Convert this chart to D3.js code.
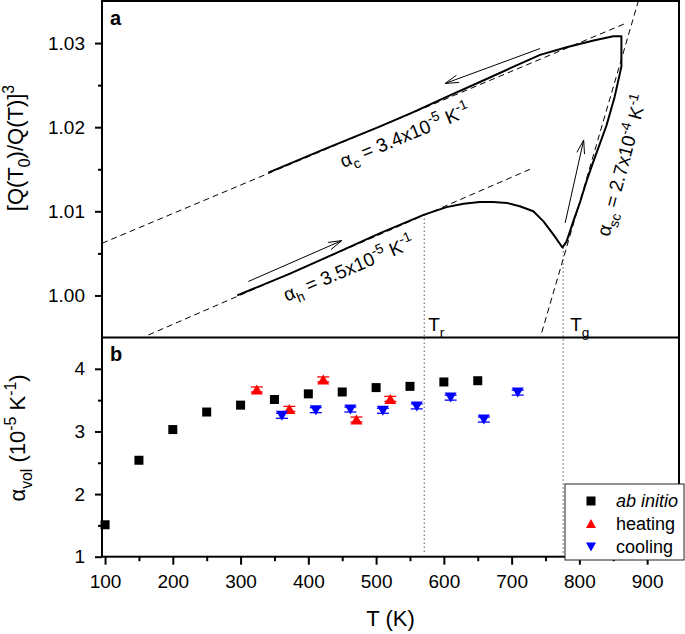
<!DOCTYPE html>
<html><head><meta charset="utf-8">
<script src="https://cdn.jsdelivr.net/npm/d3@7"></script>
<style>
body{margin:0;background:#fff;}
svg text{font-family:"Liberation Sans",Arial,sans-serif;fill:#000;}
</style></head><body>
<svg id="c" width="685" height="634"></svg>
<script>
// ---------- data ----------
const xTicks = [100,200,300,400,500,600,700,800,900];
const xMinorTicks = [150,250,350,450,550,650,750,850];
const topTicks = [1.00,1.01,1.02,1.03];
const topMinorTicks = [1.005,1.015,1.025];
const botTicks = [1,2,3,4];
const botMinorTicks = [1.5,2.5,3.5];

// panel a: measured curve (heating then cooling)
const heatCurveT = [295,373,440,506,571,604,629,653,673,693,712,732,747,762,775,781,791,801,811,821,840,852,862,862];
const heatCurveV = [1.0000,1.0026,1.0050,1.0074,1.0096,1.0105,1.0109,1.0111,1.0111,1.0110,1.0106,1.0100,1.0088,1.0072,1.0057,1.0064,1.0088,1.0111,1.0137,1.0160,1.0202,1.0236,1.0272,1.0308];
const coolCurveT = [862,850,821,781,742,703,654,604,555,506,421,341];
const coolCurveV = [1.0308,1.0308,1.0303,1.0295,1.0286,1.0272,1.0254,1.0236,1.0218,1.0201,1.0173,1.0146];

// linear fits (dashed)
const fitCoolT = [95.5, 870], fitCoolV = [1.0062, 1.0324];
const fitHeatT = [164, 730],  fitHeatV = [0.9953, 1.0151];
const fitScT   = [744.5, 887], fitScV  = [0.9956, 1.0350];

// characteristic temperatures
const Tr = 571, TrV = 1.0096;
const Tg = 776, TgV = 1.0057;

// direction arrows [fromT, fromV, toT, toV]
const arrowCool = [742, 1.02935, 602, 1.0252];
const arrowHeat = [311.5, 1.00166, 449.4, 1.00652];
const arrowSc   = [779, 1.00862, 806.3, 1.01847];

// panel b
const abT  = [100,150,200,250,300,350,400,450,500,550,600,650];
const abV  = [1.51,2.54,3.03,3.31,3.42,3.51,3.60,3.63,3.70,3.72,3.79,3.81];
const heatT = [324,372,422,471,521];
const heatV = [3.67,3.36,3.83,3.19,3.52];
const heatErr = [0.04,0.04,0.04,0.04,0.04];
const coolT = [361,411,462,510,560,610,659,709];
const coolV = [3.25,3.34,3.35,3.33,3.40,3.54,3.19,3.62];
const coolErr = [0.04,0.04,0.04,0.04,0.04,0.04,0.04,0.04];

const legendLabels = ["ab initio","heating","cooling"];

// ---------- layout ----------
const FONT = '"Liberation Sans",Arial,sans-serif';
const L = 102, R = 679, TOP = 1, MID = 337.5, BOT = 556.7;
const x  = d3.scaleLinear().domain([95.5, 947]).range([L, R]);
const yT = d3.scaleLinear().domain([0.995, 1.035]).range([MID, TOP]);
const yB = d3.scaleLinear().domain([1, 4.5]).range([BOT, MID]);

const svg = d3.select('#c');

function rich(sel, parts, fs){
  let cur = 0;
  parts.forEach(([t,k])=>{
    const target = k==='sub' ? fs*0.3 : k==='sup' ? -fs*0.42 : 0;
    sel.append('tspan').text(t).attr('dy', target-cur)
       .attr('font-size', k==='n' ? fs : fs*0.72);
    cur = target;
  });
}

// ---------- panel a ----------
const gA = svg.append('g');
const lineA = d3.line().x(d=>x(d[0])).y(d=>yT(d[1]));

function dashed(T,V){
  gA.append('path').attr('d', lineA(T.map((t,i)=>[t,V[i]])))
    .attr('fill','none').attr('stroke','#000').attr('stroke-width',1)
    .attr('stroke-dasharray','6,4');
}
dashed(fitCoolT, fitCoolV);
dashed(fitHeatT, fitHeatV);
dashed(fitScT, fitScV);

const curve = heatCurveT.map((t,i)=>[t,heatCurveV[i]])
  .concat(coolCurveT.map((t,i)=>[t,coolCurveV[i]]));
gA.append('path').attr('d', lineA(curve)).attr('fill','none')
  .attr('stroke','#000').attr('stroke-width',2).attr('stroke-linejoin','round');

function arrow(a){
  const x1=x(a[0]), y1=yT(a[1]), x2=x(a[2]), y2=yT(a[3]);
  const ang = Math.atan2(y2-y1, x2-x1), len = 14, spread = 0.28;
  const p = (s)=>[x2 - len*Math.cos(ang+s), y2 - len*Math.sin(ang+s)];
  const b1 = p(spread), b2 = p(-spread);
  gA.append('path').attr('d', `M${x1},${y1}L${x2},${y2}M${b1[0]},${b1[1]}L${x2},${y2}L${b2[0]},${b2[1]}`)
    .attr('fill','none').attr('stroke','#000').attr('stroke-width',1);
}
arrow(arrowCool); arrow(arrowHeat); arrow(arrowSc);

// annotation texts
function annot(T, V, rot, parts, fs){
  const t = gA.append('text').attr('text-anchor','middle')
    .attr('transform', `translate(${x(T)},${yT(V)}) rotate(${rot})`);
  rich(t, parts, fs);
}
annot(546, 1.01830, -22.5, [['α','n'],['c','sub'],[' = 3.4x10','n'],['-5','sup'],[' K','n'],['-1','sup']], 19);
annot(463, 1.00250, -23, [['α','n'],['h','sub'],[' = 3.5x10','n'],['-5','sup'],[' K','n'],['-1','sup']], 19);
annot(872, 1.01527, -75, [['α','n'],['sc','sub'],[' = 2.7x10','n'],['-4','sup'],[' K','n'],['-1','sup']], 19);

const trT = gA.append('text').attr('x', x(Tr)+4).attr('y', 331);
rich(trT, [['T','n'],['r','sub']], 19);
const tgT = gA.append('text').attr('x', x(Tg)+7).attr('y', 331);
rich(tgT, [['T','n'],['g','sub']], 19);

// dotted verticals
[[Tr,TrV],[Tg,TgV]].forEach(([t,v])=>{
  svg.append('line').attr('x1',x(t)).attr('x2',x(t)).attr('y1',yT(v)).attr('y2',BOT-4)
    .attr('stroke','#000').attr('stroke-width',1).attr('stroke-dasharray','1,3');
});

// ---------- panel b ----------
const gB = svg.append('g');
function errBars(T,V,E,color){
  T.forEach((t,i)=>{
    const cx=x(t);
    gB.append('line').attr('x1',cx).attr('x2',cx).attr('y1',yB(V[i]-E[i])).attr('y2',yB(V[i]+E[i]))
      .attr('stroke',color).attr('stroke-width',1);
    [V[i]-E[i], V[i]+E[i]].forEach(v=>{
      gB.append('line').attr('x1',cx-6).attr('x2',cx+6).attr('y1',yB(v)).attr('y2',yB(v))
        .attr('stroke',color).attr('stroke-width',1.3);
    });
  });
}
errBars(heatT, heatV, heatErr, '#ff0000');
errBars(coolT, coolV, coolErr, '#0000ff');

const triUp = (w,h)=>`M0,${-h/2}L${w/2},${h/2}L${-w/2},${h/2}Z`;
const triDn = (w,h)=>`M0,${h/2}L${w/2},${-h/2}L${-w/2},${-h/2}Z`;

gB.selectAll('rect.ab').data(abT).enter().append('rect')
  .attr('x',(d)=>x(d)-4.5).attr('y',(d,i)=>yB(abV[i])-4.5).attr('width',9).attr('height',9).attr('fill','#000');
gB.selectAll('path.ht').data(heatT).enter().append('path')
  .attr('d', triUp(12,10)).attr('transform',(d,i)=>`translate(${x(d)},${yB(heatV[i])})`).attr('fill','#ff0000');
gB.selectAll('path.ct').data(coolT).enter().append('path')
  .attr('d', triDn(12,10)).attr('transform',(d,i)=>`translate(${x(d)},${yB(coolV[i])})`).attr('fill','#0000ff');

// ---------- axes ----------
function styleAxis(g){
  g.select('.domain').remove();
  g.attr('font-family', FONT).attr('font-size', 19);
  g.selectAll('line').attr('stroke','#000').attr('stroke-width',2);
  g.selectAll('text').attr('fill','#000');
}
const gx = svg.append('g').attr('transform',`translate(0,${BOT})`)
  .call(d3.axisBottom(x).tickValues(xTicks).tickSize(8).tickPadding(10).tickFormat(d3.format('d')));
styleAxis(gx);
const gxm = svg.append('g').attr('transform',`translate(0,${BOT})`)
  .call(d3.axisBottom(x).tickValues(xMinorTicks).tickSize(4.5).tickFormat(''));
styleAxis(gxm);

const gyT = svg.append('g').attr('transform',`translate(${L},0)`)
  .call(d3.axisLeft(yT).tickValues(topTicks).tickSize(7).tickPadding(10).tickFormat(d3.format('.2f')));
styleAxis(gyT);
const gyTm = svg.append('g').attr('transform',`translate(${L},0)`)
  .call(d3.axisLeft(yT).tickValues(topMinorTicks).tickSize(4).tickFormat(''));
styleAxis(gyTm);
const gyB = svg.append('g').attr('transform',`translate(${L},0)`)
  .call(d3.axisLeft(yB).tickValues(botTicks).tickSize(7).tickPadding(10).tickFormat(d3.format('d')));
styleAxis(gyB);
const gyBm = svg.append('g').attr('transform',`translate(${L},0)`)
  .call(d3.axisLeft(yB).tickValues(botMinorTicks).tickSize(4).tickFormat(''));
styleAxis(gyBm);

// frame
svg.append('rect').attr('x',L).attr('y',TOP).attr('width',R-L).attr('height',BOT-TOP)
  .attr('fill','none').attr('stroke','#000').attr('stroke-width',2);
svg.append('line').attr('x1',L).attr('x2',R).attr('y1',MID).attr('y2',MID)
  .attr('stroke','#000').attr('stroke-width',2);

// panel letters
svg.append('text').attr('x',110).attr('y',25).attr('font-size',20).attr('font-weight','bold').text('a');
svg.append('text').attr('x',110).attr('y',361).attr('font-size',20).attr('font-weight','bold').text('b');

// axis titles
svg.append('text').attr('x',(L+R)/2).attr('y',626).attr('text-anchor','middle').attr('font-size',22).text('T (K)');
const yl1 = svg.append('text').attr('text-anchor','middle').attr('transform','translate(23,148) rotate(-90)');
rich(yl1, [['[Q(T','n'],['0','sub'],[')/Q(T)]','n'],['3','sup']], 22);
const yl2 = svg.append('text').attr('text-anchor','middle').attr('transform','translate(25,438) rotate(-90)');
rich(yl2, [['α','n'],['vol','sub'],[' (10','n'],['-5','sup'],[' K','n'],['-1','sup'],[')','n']], 22);

// legend
const lg = svg.append('g');
lg.append('rect').attr('x',565).attr('y',484).attr('width',119).attr('height',76)
  .attr('fill','#fff').attr('stroke','#222').attr('stroke-width',1);
const lgY = [501, 523.5, 547];
lg.append('rect').attr('x',591-4.5).attr('y',lgY[0]-4.5).attr('width',9).attr('height',9).attr('fill','#000');
lg.append('path').attr('d',triUp(10,9)).attr('transform',`translate(591,${lgY[1]})`).attr('fill','#ff0000');
lg.append('path').attr('d',triDn(10,9)).attr('transform',`translate(591,${lgY[2]})`).attr('fill','#0000ff');
legendLabels.forEach((s,i)=>{
  lg.append('text').attr('x',616).attr('y',lgY[i]+6).attr('font-size',18)
    .attr('font-style', i===0?'italic':'normal').text(s);
});
</script>
</body></html>
